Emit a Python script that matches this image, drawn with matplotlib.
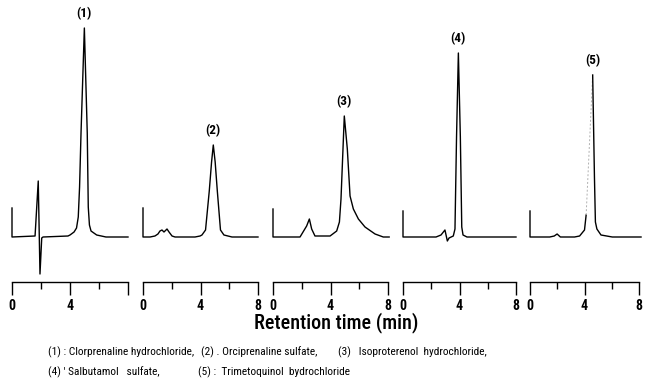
import matplotlib
matplotlib.use("Agg")
import matplotlib.pyplot as plt
from matplotlib import font_manager

# ---------------- data (retention time in min, detector signal in arbitrary units) -------------
peak_labels = ["(1)", "(2)", "(3)", "(4)", "(5)"]

p1_t = [0.0, 0.0, 1.59, 1.81, 1.93, 2.05, 2.14, 3.86, 4.00, 4.28, 4.45, 4.57, 4.66, 4.76, 4.99, 5.19, 5.26, 5.34, 5.45, 5.84, 6.48, 8.0]
p1_h = [29, 0, 1, 56, -37, -1, 0, 1, 2, 5, 9, 20, 50, 104, 209, 104, 30, 12, 6, 2, 0, 0]

p2_t = [0.0, 0.0, 0.49, 0.83, 1.04, 1.18, 1.32, 1.46, 1.67, 1.81, 2.02, 2.23, 3.62, 3.97, 4.10, 4.35, 4.61, 4.77, 4.89, 5.02, 5.17, 5.39, 5.63, 6.19, 8.0]
p2_h = [29, 0, 0, 1, 3, 6, 7, 5, 8, 5, 1, 0, 0, 1, 2, 7, 46, 75, 92, 75, 46, 7, 2, 0, 0]

p3_t = [0.0, 0.0, 1.88, 2.34, 2.53, 2.69, 2.92, 3.97, 4.43, 4.62, 4.73, 4.96, 5.17, 5.36, 5.59, 5.94, 6.40, 7.10, 7.67, 8.08]
p3_h = [28, 0, 0, 11, 18, 8, 1, 1, 6, 15, 38, 121, 88, 41, 28, 18, 10, 3, 0, 0]

p4_t = [0.0, 0.0, 2.34, 2.69, 2.97, 3.14, 3.26, 3.56, 3.68, 3.79, 3.92, 4.06, 4.16, 4.25, 4.53, 8.0]
p4_h = [26, 0, 0, 2, 7, -4, -1, 1, 8, 100, 184, 100, 10, 2, 0, 0]

p5_t = [0.0, 0.0, 1.45, 1.78, 1.99, 2.23, 3.27, 3.64, 4.00, 4.12, 4.60, 4.73, 4.80, 4.91, 5.21, 6.04, 8.15]
p5_h = [26, 0, 0, 1, 3, 0, 0, 1, 7, 22, 162, 60, 15, 8, 2, 0, 0]

panels_t = [p1_t, p2_t, p3_t, p4_t, p5_t]
panels_h = [p1_h, p2_h, p3_h, p4_h, p5_h]

major_ticks = [0, 4, 8]
minor_ticks = [2, 6]
tick_labels_first = ["0", "4", ""]
tick_labels_other = ["0", "4", "8"]

xlabel = "Retention time (min)"
caption_line1 = ["(1) : Clorprenaline hydrochloride,", "(2) . Orciprenaline sulfate,",
                 "(3)   Isoproterenol  hydrochloride,"]
caption_line2 = ["(4) ' Salbutamol   sulfate,", "(5) :  Trimetoquinol  bydrochloride"]

# ---------------- font choice: a condensed sans if one is available ----------------
family, stretch, scale = "DejaVu Sans", "normal", 0.82
entries = font_manager.fontManager.ttflist
names = {f.name for f in entries}
for nm in ("Liberation Sans Narrow", "Roboto Condensed", "Open Sans Condensed", "Noto Sans Condensed"):
    if nm in names:
        family, stretch, scale = nm, "normal", 1.0
        break
else:
    for nm in ("DejaVu Sans", "Roboto", "Noto Sans", "Open Sans"):
        if any(f.name == nm and f.stretch in ("condensed", "semi-condensed", 87.5, 75) for f in entries):
            family, stretch, scale = nm, "condensed", 0.95
            break
plt.rcParams["font.family"] = [family, "DejaVu Sans"]
plt.rcParams["font.stretch"] = stretch

# ---------------- layout ----------------
W, H = 647, 390
panel_x0 = [12, 143, 273, 403, 530]     # pixel of t = 0
panel_x8 = [128, 258, 388, 516, 639]    # pixel of t = 8
axis_y_px = 282
ylo, yhi = -45, 237

fig = plt.figure(figsize=(W / 100, H / 100), dpi=100)

for i in range(5):
    x0, x8 = panel_x0[i], panel_x8[i]
    ax = fig.add_axes([x0 / W, (H - axis_y_px) / H, (x8 - x0) / W, axis_y_px / H])
    ax.set_xlim(0, 8)
    ax.set_ylim(ylo, yhi)
    t, h = panels_t[i], panels_h[i]
    k = h.index(max(h))
    if i == 4:
        ax.plot(t[:k], h[:k], color="black", lw=1.0, clip_on=False)
        ax.plot(t[k - 1:k + 1], h[k - 1:k + 1], color="#b0b0b0", lw=0.7, ls=(0, (2, 2)), clip_on=False)
        ax.plot(t[k:], h[k:], color="black", lw=1.0, clip_on=False)
    else:
        ax.plot(t, h, color="black", lw=1.0, clip_on=False)
    ax.text(t[k], h[k] + 14, peak_labels[i], ha="center", va="center",
            fontsize=9.5 * scale, fontweight="bold")
    for s in ("left", "right", "top"):
        ax.spines[s].set_visible(False)
    ax.spines["bottom"].set_linewidth(1.0)
    ax.set_yticks([])
    ax.set_xticks(major_ticks)
    ax.set_xticks(minor_ticks, minor=True)
    ax.set_xticklabels(tick_labels_first if i == 0 else tick_labels_other)
    ax.tick_params(axis="x", which="major", direction="out", length=9, width=1.0, pad=3,
                   labelsize=10 * scale)
    ax.tick_params(axis="x", which="minor", direction="out", length=5, width=1.0)
    for lab in ax.get_xticklabels():
        lab.set_fontweight("bold")
    ax.patch.set_visible(False)

fig.text(336 / W, 1 - 323 / H, xlabel, ha="center", va="center", fontsize=14.5 * scale,
         fontweight="medium")

cap1_x = [48, 201, 338]
cap2_x = [48, 198]
cap_size = 8.2 * scale
for x, s in zip(cap1_x, caption_line1):
    fig.text(x / W, 1 - 352 / H, s, ha="left", va="center", fontsize=cap_size)
for x, s in zip(cap2_x, caption_line2):
    fig.text(x / W, 1 - 372 / H, s, ha="left", va="center", fontsize=cap_size)

fig.savefig("out.png", dpi=100)
